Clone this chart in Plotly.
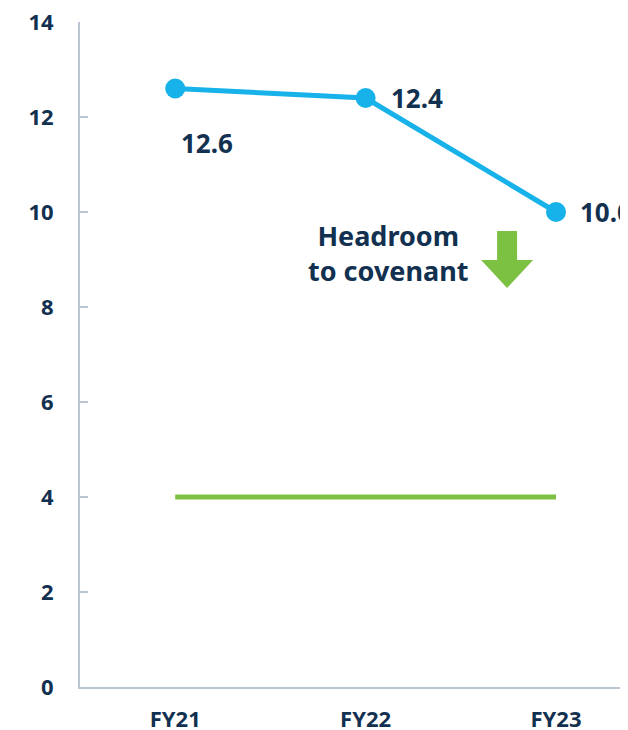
import plotly.graph_objects as go

categories = ["FY21", "FY22", "FY23"]
leverage = [12.6, 12.4, 10.0]
covenant = [4, 4, 4]
label_text = ["12.6", "12.4", "10.0"]
y_ticks = [0, 2, 4, 6, 8, 10, 12, 14]

NAVY = "#12304f"
CYAN = "#17b2e9"
GREEN = "#7cc142"
AXIS = "#b9c5d1"
FONT = "Noto Sans"

cat_idx = list(range(len(categories)))

fig = go.Figure()
fig.add_trace(go.Scatter(
    x=cat_idx, y=covenant, mode="lines",
    line=dict(color=GREEN, width=5), hoverinfo="skip", showlegend=False))
fig.add_trace(go.Scatter(
    x=cat_idx, y=leverage, mode="lines+markers",
    line=dict(color=CYAN, width=5),
    marker=dict(color=CYAN, size=20), showlegend=False))

# data labels
shifts = [(4, -54), (23, 0), (22, 0)]
for i, (v, t) in enumerate(zip(leverage, label_text)):
    fig.add_annotation(x=cat_idx[i], y=v, text=f"<b>{t}</b>", showarrow=False,
                       xanchor="left", yanchor="middle",
                       xshift=shifts[i][0], yshift=shifts[i][1],
                       font=dict(family=FONT, size=26, color=NAVY))

fig.add_annotation(x=1.118, y=9.14, text="<b>Headroom<br>to covenant</b>",
                   showarrow=False, xanchor="center", yanchor="middle",
                   font=dict(family=FONT, size=27, color=NAVY))

# green down arrow
fig.add_shape(type="path", xref="x", yref="y", xsizemode="pixel", ysizemode="pixel",
              xanchor=1.743, yanchor=9.6,
              path="M -10 0 L 10 0 L 10 -29 L 26 -29 L 0 -57 L -26 -29 L -10 -29 Z",
              fillcolor=GREEN, line=dict(width=0))

fig.update_layout(
    width=620, height=722,
    margin=dict(l=72, r=0, t=14, b=43),
    plot_bgcolor="white", paper_bgcolor="white",
    font=dict(family=FONT, color=NAVY),
)
fig.update_xaxes(
    range=[-0.5, 2.378], tickmode="array", tickvals=cat_idx,
    ticktext=[f"<b>{c}</b>" for c in categories],
    showline=True, linecolor=AXIS, linewidth=2, showgrid=False, zeroline=False,
    ticks="", tickfont=dict(size=22, color=NAVY), ticklabelstandoff=12,
    ticklabeloverflow="allow", automargin=False)
fig.update_yaxes(
    range=[0, 14], tickmode="array", tickvals=y_ticks,
    ticktext=[f"<b>{v}</b>" for v in y_ticks],
    showline=True, linecolor=AXIS, linewidth=2, showgrid=False, zeroline=False,
    ticks="inside", ticklen=8, tickcolor=AXIS, tickwidth=2,
    tickfont=dict(size=22, color=NAVY), ticklabelstandoff=20,
    ticklabeloverflow="allow", automargin=False)

fig.write_html("out.html")
